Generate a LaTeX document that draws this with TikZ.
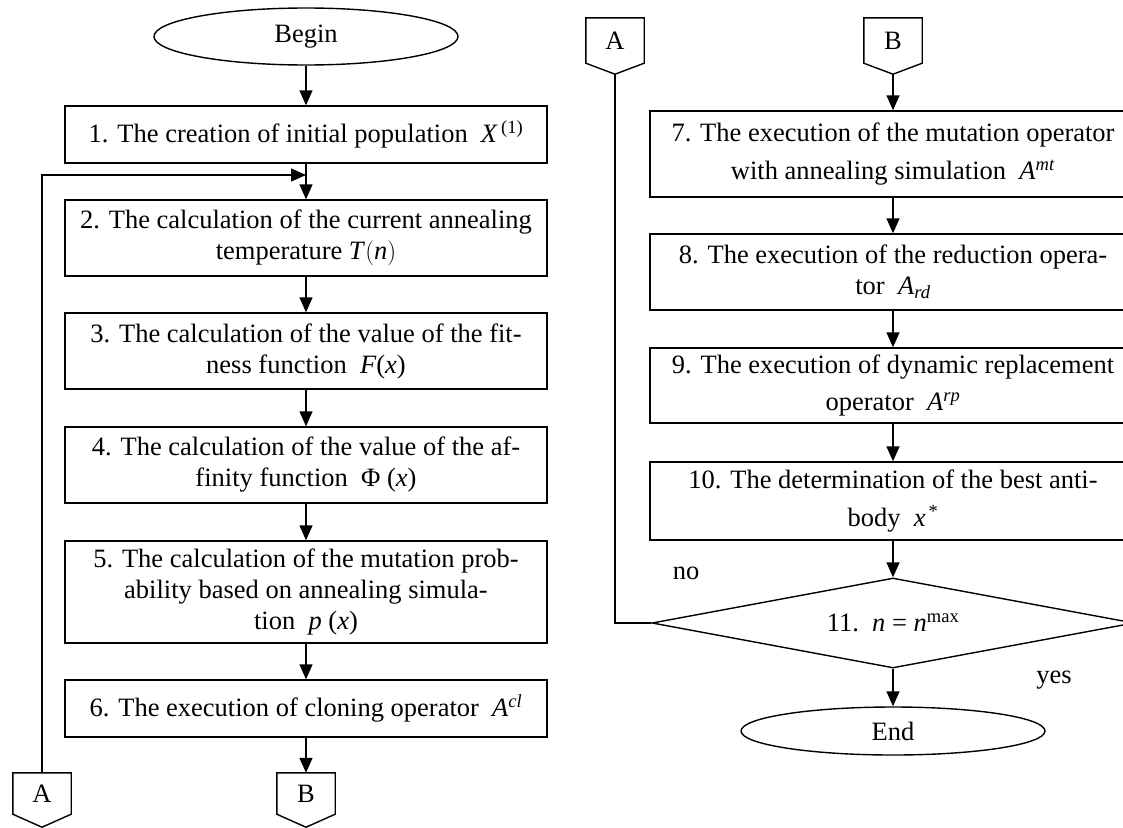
\documentclass[tikz,border=0pt]{standalone}
\usepackage{fontspec}
\setmainfont{Liberation Serif}
\usetikzlibrary{shapes.geometric,arrows.meta,calc}
\newcommand{\mv}[1]{\textit{#1}}
\begin{document}
\begin{tikzpicture}[x=1pt,y=-1pt,
  every node/.style={font=\fontsize{26.5}{31}\selectfont},
  lw/.style={line width=1.4pt},
  box/.style={draw,lw,rectangle,align=center,inner sep=0pt},
  lbox/.style={box,minimum width=482pt},
  rbox/.style={box,minimum width=486pt},
  term/.style={draw,lw,ellipse,inner sep=0pt,minimum width=304pt},
  conn/.style={rectangle,inner sep=0pt,minimum width=58pt},
  arr/.style={lw,-{Triangle[length=15pt,width=13pt]}},
  line/.style={lw}
]
\useasboundingbox (0,0) rectangle (1123,827);
\clip (0,0) rectangle (1123,827);
\fill[white] (0,0) rectangle (1123,827);

% left column
\node[term,minimum height=57pt] (begin) at (306,36.5) {Begin};
\node[lbox,minimum height=57pt] (b1) at (306,134.5) {1. The creation of initial population~~\mv{X}\textsuperscript{\,(1)}};
\node[lbox,minimum height=76pt] (b2) at (306,238) {2. The calculation of the current annealing\\temperature~\mv{T}$\bigl($\mv{n}$\bigr)$};
\node[lbox,minimum height=76pt] (b3) at (306,351) {3. The calculation of the value of the fit-\\ness function~~\mv{F}(\mv{x})};
\node[lbox,minimum height=76pt] (b4) at (306,465) {4. The calculation of the value of the af-\\finity function~~Φ~(\mv{x})};
\node[lbox,minimum height=102pt] (b5) at (306,592) {5. The calculation of the mutation prob-\\ability based on annealing simula-\\tion~~\mv{p}~(\mv{x})};
\node[lbox,minimum height=57pt] (b6) at (306,708.5) {6. The execution of cloning operator~~\mv{A}\textsuperscript{\mv{cl}}};

\node[conn,minimum height=41pt] (Ab) at (42,793.5) {A};
\node[conn,minimum height=41pt] (Bb) at (306,793.5) {B};
\foreach \n in {Ab,Bb}
  \draw[line] (\n.north west) -- (\n.north east) -- (\n.south east) -- ([yshift=-13pt]\n.south) -- (\n.south west) -- cycle;

\coordinate (j1) at (306,175);
\draw[arr] (begin) -- (b1);
\draw[arr] (b1) -- (b2);
\draw[arr] (Ab.north) |- (j1);
\draw[arr] (b2) -- (b3);
\draw[arr] (b3) -- (b4);
\draw[arr] (b4) -- (b5);
\draw[arr] (b5) -- (b6);
\draw[arr] (b6) -- (Bb.north);

% right column
\node[conn,minimum height=45pt] (At) at (615,40.5) {A};
\node[conn,minimum height=45pt] (Bt) at (893,40.5) {B};
\foreach \n in {At,Bt}
  \draw[line] (\n.north west) -- (\n.north east) -- (\n.south east) -- ([yshift=-11pt]\n.south) -- (\n.south west) -- cycle;

\node[rbox,minimum height=86pt] (b7) at (893,154) {7. The execution of the mutation operator\\[7pt]with annealing simulation~~\mv{A}\textsuperscript{\mv{mt}}};
\node[rbox,minimum height=76pt] (b8) at (893,272) {8. The execution of the reduction opera-\\tor~~\mv{A}\textsubscript{\mv{rd}}};
\node[rbox,minimum height=75pt] (b9) at (893,385.5) {9. The execution of dynamic replacement\\[6pt]operator~~\mv{A}\textsuperscript{\mv{rp}}};
\node[rbox,minimum height=78pt] (b10) at (893,501) {10. The determination of the best anti-\\[7pt]body~~\mv{x}\textsuperscript{\,*}};
\node[draw,lw,diamond,aspect=5.36,inner sep=0pt,minimum width=482pt,minimum height=90pt] (d11) at (893,623) {\raisebox{-4pt}{11.~~\mv{n}~=~\mv{n}\textsuperscript{max}}};
\node[term,minimum height=48pt] (end) at (893,731) {End};
\node (no) at (686,573) {no};
\node (yes) at (1054,680) {yes};

\draw[arr] ([yshift=-11pt]Bt.south) -- (b7);
\draw[arr] (b7) -- (b8);
\draw[arr] (b8) -- (b9);
\draw[arr] (b9) -- (b10);
\draw[arr] (b10) -- (d11);
\draw[arr] (d11) -- (end);
\draw[line] (d11.west) -| ([yshift=-11pt]At.south);
\end{tikzpicture}
\end{document}
